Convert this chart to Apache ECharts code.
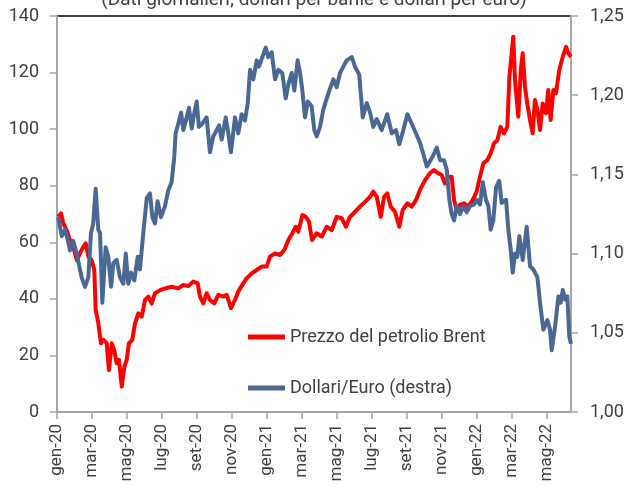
<!DOCTYPE html>
<html>
<head>
<meta charset="utf-8">
<script src="https://cdn.jsdelivr.net/npm/echarts@6/dist/echarts.min.js"></script>
<style>
  html, body { margin: 0; padding: 0; background: #fff; }
  #chart { width: 628px; height: 486px; }
</style>
</head>
<body>
<div id="chart"></div>
<script>
// x values are months since gen-20
const brentT = [0.07, 0.23, 0.36, 0.55, 0.74, 0.93, 1.13, 1.31, 1.50, 1.64, 1.79, 1.98, 2.13, 2.21, 2.36, 2.51, 2.65, 2.84, 2.97, 3.13,
  3.27, 3.41, 3.54, 3.70, 3.85, 3.98, 4.11, 4.30, 4.46, 4.65, 4.84, 5.03, 5.22, 5.41, 5.60, 5.89, 6.17, 6.55, 6.93, 7.22,
  7.50, 7.79, 8.04, 8.17, 8.36, 8.55, 8.74, 8.99, 9.22, 9.50, 9.70, 9.94, 10.17, 10.40, 10.65, 10.84, 11.13, 11.41, 11.70, 11.98,
  12.17, 12.46, 12.74, 12.99, 13.22, 13.45, 13.64, 13.79, 14.02, 14.21, 14.40, 14.57, 14.84, 15.13, 15.41, 15.70, 15.98, 16.27, 16.51, 16.74,
  17.03, 17.31, 17.60, 17.89, 18.07, 18.27, 18.50, 18.69, 18.87, 19.07, 19.31, 19.56, 19.75, 20.02, 20.27, 20.51, 20.74, 21.03, 21.31, 21.54,
  21.79, 21.98, 22.17, 22.36, 22.55, 22.69, 22.84, 23.03, 23.26, 23.50, 23.75, 23.98, 24.17, 24.36, 24.59, 24.78, 24.97, 25.16, 25.35, 25.54,
  25.73, 25.85, 25.98, 26.07, 26.17, 26.36, 26.50, 26.61, 26.74, 26.87, 27.03, 27.18, 27.31, 27.45, 27.60, 27.75, 27.94, 28.07, 28.21, 28.36,
  28.51, 28.70, 28.90, 29.09, 29.22, 29.37]
const brentVal = [69.0, 70.2, 66.7, 64.3, 60.8, 58.4, 53.7, 56.1, 58.4, 59.6, 54.9, 53.7, 50.2, 36.1, 31.4, 24.3, 25.5, 24.3, 14.8, 24.3,
  21.9, 17.2, 18.4, 9.0, 16.0, 18.4, 24.3, 25.5, 31.4, 34.9, 33.7, 39.6, 40.8, 38.4, 42.0, 43.1, 43.7, 44.3, 43.7, 44.9,
  44.5, 46.1, 45.5, 40.8, 38.4, 42.0, 39.6, 38.4, 41.4, 40.8, 41.4, 36.7, 39.6, 43.1, 45.5, 47.3, 49.0, 50.2, 51.4, 51.4,
  54.9, 56.1, 55.5, 57.3, 60.8, 63.2, 65.5, 63.7, 69.6, 69.0, 67.3, 60.8, 63.2, 62.0, 65.5, 64.3, 69.0, 68.5, 65.5, 69.0,
  70.8, 72.6, 74.3, 76.1, 77.9, 76.1, 69.0, 76.1, 77.3, 72.6, 70.8, 65.5, 71.4, 73.8, 72.6, 74.9, 78.5, 82.0, 84.4, 85.5,
  84.4, 83.8, 80.8, 83.2, 83.2, 74.9, 71.4, 73.2, 73.8, 72.6, 74.9, 77.9, 83.2, 87.9, 89.1, 91.4, 95.0, 96.1, 100.8, 98.5,
  100.8, 118.5, 126.8, 132.7, 117.4, 104.4, 120.9, 126.8, 115.0, 109.1, 103.2, 98.5, 110.3, 106.8, 99.7, 109.1, 105.6, 113.8, 103.2, 113.8,
  112.7, 120.9, 125.6, 129.1, 126.8, 125.6]

const usdT = [0.07, 0.27, 0.46, 0.61, 0.74, 0.93, 1.13, 1.31, 1.41, 1.60, 1.79, 1.94, 2.07, 2.21, 2.36, 2.46, 2.59, 2.78, 2.93, 3.09,
  3.22, 3.41, 3.60, 3.79, 3.93, 4.07, 4.23, 4.42, 4.61, 4.74, 4.93, 5.13, 5.31, 5.45, 5.60, 5.75, 5.94, 6.17, 6.36, 6.55,
  6.70, 6.78, 6.93, 7.09, 7.22, 7.41, 7.54, 7.70, 7.85, 7.98, 8.11, 8.30, 8.55, 8.74, 8.93, 9.13, 9.26, 9.41, 9.64, 9.79,
  9.94, 10.17, 10.36, 10.55, 10.74, 10.90, 11.03, 11.22, 11.41, 11.54, 11.73, 11.93, 12.07, 12.27, 12.46, 12.65, 12.87, 13.07, 13.22, 13.41,
  13.56, 13.75, 13.89, 14.02, 14.17, 14.33, 14.55, 14.70, 14.84, 15.03, 15.22, 15.50, 15.79, 15.98, 16.17, 16.36, 16.55, 16.84, 17.03, 17.27,
  17.47, 17.70, 17.89, 18.07, 18.27, 18.55, 18.87, 19.13, 19.37, 19.56, 19.79, 20.02, 20.27, 20.51, 20.74, 20.93, 21.13, 21.35, 21.54, 21.70,
  21.89, 22.11, 22.27, 22.42, 22.55, 22.69, 22.84, 23.03, 23.22, 23.41, 23.60, 23.83, 23.98, 24.17, 24.33, 24.51, 24.65, 24.78, 24.93, 25.09,
  25.27, 25.41, 25.66, 25.79, 25.93, 26.04, 26.17, 26.30, 26.42, 26.61, 26.84, 27.03, 27.22, 27.45, 27.60, 27.79, 28.02, 28.17, 28.27, 28.46,
  28.65, 28.78, 28.90, 29.03, 29.16, 29.27, 29.37]
const usdVal = [1.123, 1.111, 1.115, 1.109, 1.102, 1.108, 1.100, 1.090, 1.085, 1.079, 1.085, 1.113, 1.119, 1.141, 1.115, 1.113, 1.069, 1.104, 1.098, 1.079,
  1.094, 1.096, 1.085, 1.081, 1.100, 1.081, 1.088, 1.083, 1.098, 1.090, 1.113, 1.135, 1.138, 1.123, 1.119, 1.133, 1.123, 1.130, 1.140, 1.145,
  1.161, 1.176, 1.182, 1.189, 1.178, 1.186, 1.192, 1.179, 1.189, 1.196, 1.180, 1.182, 1.186, 1.164, 1.174, 1.178, 1.181, 1.172, 1.186, 1.176,
  1.164, 1.186, 1.176, 1.188, 1.184, 1.195, 1.216, 1.210, 1.222, 1.218, 1.224, 1.230, 1.224, 1.227, 1.210, 1.216, 1.214, 1.198, 1.207, 1.214,
  1.203, 1.222, 1.214, 1.203, 1.186, 1.196, 1.193, 1.178, 1.174, 1.180, 1.191, 1.201, 1.210, 1.205, 1.214, 1.218, 1.222, 1.224, 1.218, 1.213,
  1.186, 1.195, 1.189, 1.180, 1.185, 1.178, 1.188, 1.176, 1.178, 1.169, 1.178, 1.188, 1.182, 1.176, 1.170, 1.163, 1.155, 1.159, 1.163, 1.167,
  1.159, 1.159, 1.153, 1.134, 1.125, 1.121, 1.130, 1.125, 1.130, 1.126, 1.130, 1.131, 1.134, 1.131, 1.145, 1.134, 1.130, 1.115, 1.121, 1.142,
  1.146, 1.132, 1.134, 1.115, 1.102, 1.088, 1.100, 1.098, 1.111, 1.096, 1.117, 1.092, 1.090, 1.085, 1.069, 1.052, 1.058, 1.052, 1.039, 1.054,
  1.073, 1.069, 1.077, 1.071, 1.073, 1.048, 1.043]

const monthNames = ['gen', 'feb', 'mar', 'apr', 'mag', 'giu', 'lug', 'ago', 'set', 'ott', 'nov', 'dic']
const lastMonth = 29.37

const textColor = '#404040'
const axisGray = '#a6a6a6'
const font = 'Roboto'

const chart = echarts.init(document.getElementById('chart'))

chart.setOption({
  animation: false,
  textStyle: { fontFamily: font },
  title: {
    text: '(Dati giornalieri; dollari per barile e dollari per euro)',
    left: 'center',
    top: -14,
    textStyle: { fontSize: 19, fontWeight: 'normal', color: textColor, fontFamily: font }
  },
  legend: {
    orient: 'vertical',
    left: 248,
    top: 328,
    padding: 0,
    itemWidth: 37,
    itemHeight: 5,
    itemGap: 33,
    icon: 'rect',
    textStyle: { fontSize: 18, color: textColor, fontFamily: font },
    data: ['Prezzo del petrolio Brent', 'Dollari/Euro (destra)']
  },
  grid: {
    left: 57, right: 57, top: 16, bottom: 74,
    show: true, borderColor: '#000', borderWidth: 1.5
  },
  xAxis: {
    type: 'value',
    min: 0,
    max: lastMonth,
    interval: 2,
    splitLine: { show: false },
    axisLine: { show: true, lineStyle: { color: axisGray, width: 2 } },
    axisTick: { show: true, length: 7, lineStyle: { color: axisGray, width: 1.5 } },
    axisLabel: {
      rotate: 90,
      margin: 12,
      fontSize: 17,
      color: textColor,
      showMaxLabel: false,
      formatter: v => {
        if (v % 2 !== 0) return ''
        const y = 20 + Math.floor(v / 12)
        return monthNames[v % 12] + '-' + y
      }
    }
  },
  yAxis: [
    {
      type: 'value',
      min: 0, max: 140, interval: 20,
      splitLine: { show: false },
      axisLine: { show: true, lineStyle: { color: axisGray, width: 2 } },
      axisTick: { show: true, length: 7, lineStyle: { color: axisGray, width: 1.5 } },
      axisLabel: { fontSize: 18, color: textColor, margin: 18 }
    },
    {
      type: 'value',
      min: 1.0, max: 1.25, interval: 0.05,
      splitLine: { show: false },
      axisLine: { show: true, lineStyle: { color: axisGray, width: 2 } },
      axisTick: { show: true, length: 7, lineStyle: { color: axisGray, width: 1.5 } },
      axisLabel: { fontSize: 18, color: textColor, margin: 19, formatter: v => v.toFixed(2).replace('.', ',') }
    }
  ],
  series: [
    {
      name: 'Prezzo del petrolio Brent',
      type: 'line',
      yAxisIndex: 0,
      symbol: 'none',
      color: '#ff0000',
      lineStyle: { width: 4, color: '#ff0000', join: 'round' },
      data: brentT.map((t, i) => [t, brentVal[i]])
    },
    {
      name: 'Dollari/Euro (destra)',
      type: 'line',
      yAxisIndex: 1,
      symbol: 'none',
      color: '#4a6894',
      lineStyle: { width: 4, color: '#4a6894', join: 'round' },
      data: usdT.map((t, i) => [t, usdVal[i]])
    }
  ]
})
</script>
</body>
</html>
